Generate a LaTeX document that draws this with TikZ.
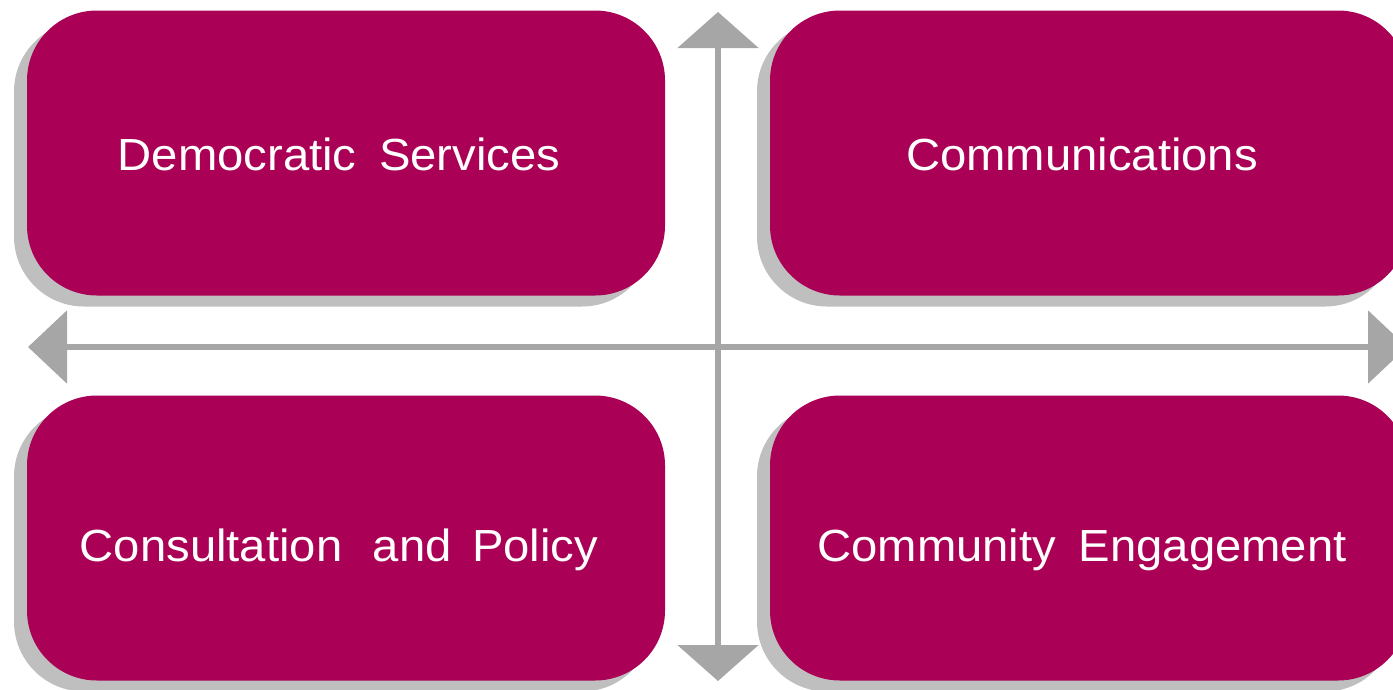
\documentclass[tikz,border=0pt]{standalone}
\usepackage{fontspec}
\setmainfont{Liberation Sans}[FakeStretch=1.05]
\usetikzlibrary{arrows.meta,shadows}
\definecolor{boxred}{HTML}{AA0055}
\definecolor{axisgray}{HTML}{A6A6A6}
\definecolor{shadowgray}{HTML}{BFBFBF}
\tikzset{
  area/.style={rounded corners=70pt, fill=boxred,
    minimum width=638pt, minimum height=285pt,
    drop shadow={shadow xshift=-13pt, shadow yshift=-11pt, fill=shadowgray, opacity=1}},
  areatext/.style={text=white, font=\fontsize{45}{50}\selectfont, xshift=-7pt},
  axis/.style={draw=axisgray, line width=6pt},
  vaxis/.style={axis, {Triangle[width=80pt,length=36pt]}-{Triangle[width=80pt,length=36pt]}},
  haxis/.style={axis, {Triangle[width=72pt,length=39pt]}-{Triangle[width=72pt,length=39pt]}}
}
\begin{document}
\begin{tikzpicture}[x=1pt,y=-1pt]
      \useasboundingbox (0,0) rectangle (1393,689);
      \draw
        (346,153) node[area, label={[areatext, yshift=-1pt]center:Democratic\hspace{0.5em}Services}] (1){}
        (1089,153) node[area, label={[areatext, yshift=-1pt]center:Communications}] (2){}
        (346,538) node[area, label={[areatext, yshift=-12pt]center:Consultation\hspace{0.68em}and\hspace{0.45em}Policy}] (3){}
        (1089,538) node[area, label={[areatext, yshift=-12pt]center:Community\hspace{0.5em}Engagement}] (4){};
      \coordinate (top) at (718,12);
      \coordinate (bottom) at (718,681);
      \coordinate (left) at (28,347);
      \coordinate (right) at (1407,347);
      \draw[vaxis] (bottom) to (top);
      \draw[haxis] (left) to (right);
    \end{tikzpicture}
\end{document}
